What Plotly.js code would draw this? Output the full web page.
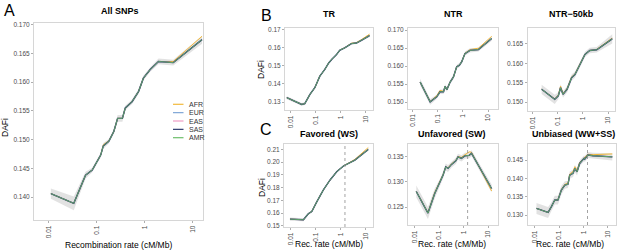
<!DOCTYPE html>
<html>
<head>
<meta charset="utf-8">
<script src="https://cdn.plot.ly/plotly-3.0.1.min.js"></script>
<style>html,body{margin:0;padding:0;background:#fff}</style>
</head>
<body>
<div id="chart" style="width:617px;height:250px"></div>
<script>
// populations and their colours
var pops = ['AFR', 'EUR', 'EAS', 'SAS', 'AMR'];
var popColors = ['#F2B93B', '#7FA6D6', '#EE9CC4', '#2E3A6E', '#6DBE6A'];

// A: All SNPs
var xAll = [0.011, 0.033, 0.058, 0.08, 0.12, 0.136, 0.177, 0.225, 0.27, 0.34, 0.39, 0.54, 0.74, 0.93, 1.29, 1.92, 3.9, 15.5];
var yAll = [0.1406, 0.1389, 0.1438, 0.1447, 0.1473, 0.1489, 0.1497, 0.1514, 0.1537, 0.1537, 0.1555, 0.1566, 0.1584, 0.1607, 0.1622, 0.1636, 0.1634, 0.1674];
var yAllAfr = [0.1406, 0.1389, 0.1438, 0.1447, 0.1473, 0.1491, 0.1498, 0.1514, 0.1537, 0.1537, 0.1555, 0.1566, 0.1584, 0.1607, 0.1622, 0.1636, 0.1636, 0.1680];
var bandAll = [0.0009, 0.0012, 0.0006, 0.0004, 0.0004, 0.0005, 0.0004, 0.0004, 0.0006, 0.0006, 0.0004, 0.0004, 0.0004, 0.0004, 0.0004, 0.0005, 0.0005, 0.0007];

// B: TR
var xTR = [0.0068, 0.027, 0.036, 0.058, 0.091, 0.145, 0.23, 0.33, 0.45, 0.68, 0.91, 1.45, 2.7, 4.3, 6.8, 14.5];
var yTR = [0.1324, 0.1287, 0.1291, 0.1342, 0.1379, 0.1443, 0.148, 0.1516, 0.1538, 0.1562, 0.1586, 0.1599, 0.1623, 0.1626, 0.1641, 0.1667];
var yTRAfr = [0.1324, 0.1287, 0.1291, 0.1342, 0.1379, 0.1443, 0.148, 0.1516, 0.1538, 0.1562, 0.1586, 0.1600, 0.1625, 0.1629, 0.1645, 0.1675];
var bandTR = [0.0008, 0.0008, 0.0008, 0.0006, 0.0005, 0.0004, 0.0004, 0.0004, 0.0004, 0.0004, 0.0004, 0.0004, 0.0005, 0.0005, 0.0005, 0.0008];

// B: NTR
var xNTR = [0.02, 0.05, 0.091, 0.123, 0.17, 0.195, 0.23, 0.31, 0.42, 0.56, 0.72, 0.89, 1.2, 1.9, 4.1, 13.8];
var yNTR = [0.1556, 0.1501, 0.1515, 0.1529, 0.1529, 0.1544, 0.1535, 0.1556, 0.157, 0.1598, 0.1603, 0.1612, 0.1635, 0.1644, 0.1646, 0.1677];
var yNTRAfr = [0.1556, 0.1502, 0.1518, 0.1533, 0.1530, 0.1544, 0.1536, 0.1556, 0.157, 0.1598, 0.1603, 0.1612, 0.1636, 0.1646, 0.1650, 0.1683];
var bandNTR = [0.0009, 0.0008, 0.0006, 0.0006, 0.0006, 0.0006, 0.0006, 0.0006, 0.0006, 0.0005, 0.0006, 0.0005, 0.0006, 0.0006, 0.0005, 0.0006];

// B: NTR-50kb
var xNTR50 = [0.023, 0.076, 0.105, 0.129, 0.162, 0.234, 0.355, 0.48, 0.76, 1.2, 1.86, 3.5, 14.5];
var yNTR50 = [0.1533, 0.1507, 0.1516, 0.1537, 0.152, 0.1533, 0.1563, 0.1571, 0.1597, 0.1623, 0.1633, 0.1635, 0.1663];
var yNTR50Afr = [0.1533, 0.1508, 0.1518, 0.1541, 0.1522, 0.1535, 0.1565, 0.1572, 0.1598, 0.1623, 0.1633, 0.1636, 0.1665];
var bandNTR50 = [0.0012, 0.0012, 0.0009, 0.0009, 0.0008, 0.0008, 0.0008, 0.0008, 0.0007, 0.0007, 0.0007, 0.0007, 0.0012];

// C: Favored (WS)
var xFav = [0.0093, 0.032, 0.05, 0.069, 0.11, 0.2, 0.37, 0.68, 1.26, 1.95, 3.6, 12.3];
var yFav = [0.1552, 0.1547, 0.1594, 0.1612, 0.169, 0.1782, 0.186, 0.1925, 0.197, 0.199, 0.2016, 0.21];
var yFavAfr = [0.1552, 0.1547, 0.1594, 0.1612, 0.169, 0.1782, 0.186, 0.1925, 0.197, 0.1992, 0.2022, 0.2115];
var bandFav = [0.0012, 0.0012, 0.001, 0.0008, 0.0006, 0.0006, 0.0006, 0.0006, 0.0006, 0.0006, 0.0007, 0.001];

// C: Unfavored (SW)
var xUnf = [0.0117, 0.035, 0.066, 0.105, 0.145, 0.186, 0.23, 0.32, 0.48, 0.59, 0.81, 1.12, 1.7, 2.1, 13.8];
var yUnf = [0.1281, 0.1238, 0.1277, 0.1297, 0.1314, 0.133, 0.1327, 0.1335, 0.1342, 0.135, 0.1347, 0.1352, 0.1353, 0.1357, 0.1287];
var yUnfAfr = [0.1281, 0.1239, 0.1279, 0.1299, 0.1315, 0.1330, 0.1328, 0.1336, 0.1343, 0.1351, 0.1349, 0.1354, 0.1360, 0.1359, 0.1282];
var bandUnf = [0.0012, 0.0012, 0.001, 0.0008, 0.0007, 0.0007, 0.0007, 0.0006, 0.0006, 0.0006, 0.0006, 0.0006, 0.0006, 0.0006, 0.0008];

// C: Unbiased (WW+SS)
var xUnb = [0.0117, 0.035, 0.048, 0.066, 0.089, 0.123, 0.17, 0.23, 0.27, 0.37, 0.44, 0.54, 0.69, 1.05, 1.12, 1.5, 2.45, 15.1];
var yUnb = [0.1318, 0.1307, 0.1323, 0.1341, 0.1341, 0.1368, 0.1382, 0.1384, 0.1409, 0.1414, 0.1427, 0.1418, 0.1441, 0.1455, 0.1453, 0.1464, 0.1462, 0.1459];
var yUnbAfr = [0.1318, 0.1307, 0.1323, 0.1341, 0.1342, 0.1369, 0.1384, 0.1387, 0.1412, 0.1419, 0.1432, 0.1423, 0.1444, 0.1456, 0.1455, 0.1466, 0.1465, 0.1467];
var bandUnb = [0.0015, 0.0015, 0.0012, 0.0012, 0.0012, 0.0012, 0.001, 0.001, 0.001, 0.001, 0.001, 0.001, 0.0008, 0.0008, 0.0008, 0.0008, 0.0008, 0.001];

// recombination-rate cutoff marked in panel C
var cutoff = 1.45;

var W = 617, H = 250;
// box = [left, right, top, bottom] in px
var panels = [
    {x: xAll, y: yAll, afr: yAllAfr, band: bandAll, xr: [-2.31, 1.21], yr: [0.136, 0.1703], dtick: 0.005, fmt: '.3f', box: [34, 203, 23, 220]},
    {x: xTR, y: yTR, afr: yTRAfr, band: bandTR, xr: [-2.24, 1.30], yr: [0.1256, 0.1709], dtick: 0.01, fmt: '.2f', box: [285, 373, 28, 110]},
    {x: xNTR, y: yNTR, afr: yNTRAfr, band: bandNTR, xr: [-2.18, 1.37], yr: [0.14825, 0.17075], dtick: 0.005, fmt: '.3f', box: [408, 497.5, 27.5, 108.5]},
    {x: xNTR50, y: yNTR50, afr: yNTR50Afr, band: bandNTR50, xr: [-2.2, 1.27], yr: [0.1477, 0.1691], dtick: 0.005, fmt: '.3f', box: [527.5, 615, 28, 111]},
    {x: xFav, y: yFav, afr: yFavAfr, band: bandFav, xr: [-2.27, 1.28], yr: [0.149, 0.2147], dtick: 0.01, fmt: '.2f', box: [284, 373, 143.5, 227], cut: true},
    {x: xUnf, y: yUnf, afr: yUnfAfr, band: bandUnf, xr: [-2.27, 1.38], yr: [0.12143, 0.13766], dtick: 0.005, fmt: '.3f', box: [408, 497.5, 143.5, 225], cut: true},
    {x: xUnb, y: yUnb, afr: yUnbAfr, band: bandUnb, xr: [-2.3, 1.31], yr: [0.12727, 0.14955], dtick: 0.005, fmt: '.3f', box: [527.5, 615.5, 143.5, 225], cut: true}
];

var data = [];
var layout = {
    width: W, height: H,
    margin: {l: 0, r: 0, t: 0, b: 0},
    paper_bgcolor: '#ffffff',
    plot_bgcolor: '#ffffff',
    showlegend: false,
    font: {family: 'Liberation Sans, Arial, sans-serif', color: '#000'},
    shapes: [],
    annotations: []
};

panels.forEach(function (p, i) {
    var n = i === 0 ? '' : String(i + 1);
    var xa = 'x' + n, ya = 'y' + n;
    var hi = p.y.map(function (v, k) { return v + p.band[k]; });
    var lo = p.y.map(function (v, k) { return v - p.band[k]; });
    data.push({
        x: p.x.concat(p.x.slice().reverse()),
        y: hi.concat(lo.reverse()),
        xaxis: xa, yaxis: ya,
        mode: 'lines', fill: 'toself',
        fillcolor: 'rgba(160,160,160,0.3)',
        line: {width: 0},
        hoverinfo: 'skip'
    });
    pops.forEach(function (pop, j) {
        data.push({
            x: p.x,
            y: pop === 'AFR' ? p.afr : p.y,
            xaxis: xa, yaxis: ya,
            mode: 'lines',
            name: pop,
            line: {color: popColors[j], width: pop === 'SAS' ? 1.4 : (pop === 'AMR' ? 0.8 : 1)}
        });
    });
    var axisStyle = {
        showline: true, mirror: true, linecolor: '#d6d6d6', linewidth: 1,
        ticks: 'outside', ticklen: 2, tickwidth: 0.8, tickcolor: '#9a9a9a',
        tickfont: {size: 6.5, color: '#4d4d4d'},
        showgrid: false, zeroline: false, fixedrange: true
    };
    layout['xaxis' + n] = Object.assign({
        domain: [p.box[0] / W, p.box[1] / W],
        anchor: ya, type: 'log', range: p.xr,
        tickvals: [0.01, 0.1, 1, 10], ticktext: ['0.01', '0.1', '1', '10'],
        tickangle: -90
    }, axisStyle);
    layout['yaxis' + n] = Object.assign({
        domain: [1 - p.box[3] / H, 1 - p.box[2] / H],
        anchor: xa, range: p.yr, tick0: 0, dtick: p.dtick, tickformat: p.fmt
    }, axisStyle);
    if (p.cut) {
        layout.shapes.push({
            type: 'line', xref: xa, yref: ya + ' domain',
            x0: cutoff, x1: cutoff, y0: 0, y1: 1,
            line: {color: '#8c8c8c', width: 0.8, dash: 'dot'}
        });
    }
});

// text labels, placed in px
function label(text, px, py, size, opts) {
    layout.annotations.push(Object.assign({
        text: text, xref: 'paper', yref: 'paper',
        x: px / W, y: 1 - py / H, xanchor: 'center', yanchor: 'middle',
        showarrow: false, font: {size: size, color: '#000'}
    }, opts || {}));
}
label('A', 9, 10, 16);
label('B', 266, 15, 16);
label('C', 266, 129, 16);
label('<b>All SNPs</b>', 120, 11, 9);
label('<b>TR</b>', 329, 14, 9);
label('<b>NTR</b>', 453, 14, 9);
label('<b>NTR\u221250kb</b>', 571, 14, 9);
label('<b>Favored (WS)</b>', 329, 134, 9);
label('<b>Unfavored (SW)</b>', 452, 134, 9);
label('<b>Unbiased (WW+SS)</b>', 573, 134, 9);
label('DAFi', 5, 128, 8.5, {textangle: -90});
label('DAFi', 261, 70, 8.5, {textangle: -90});
label('DAFi', 262, 188, 8.5, {textangle: -90});
label('Recombination rate (cM/Mb)', 118, 245, 8.5);
label('Rec. rate (cM/Mb)', 329, 244, 8.5);
label('Rec. rate (cM/Mb)', 452, 244, 8.5);
label('Rec. rate (cM/Mb)', 570, 244, 8.5);

// legend inside panel A
pops.forEach(function (pop, j) {
    var py = 104.3 + j * 8.35;
    layout.shapes.push({
        type: 'line', xref: 'paper', yref: 'paper',
        x0: 173 / W, x1: 183.5 / W, y0: 1 - py / H, y1: 1 - py / H,
        line: {color: popColors[j], width: 1.2}
    });
    label(pop, 187, py, 7, {xanchor: 'left', font: {size: 7, color: '#333'}});
});

Plotly.newPlot('chart', data, layout, {staticPlot: true, displayModeBar: false});
</script>
</body>
</html>
